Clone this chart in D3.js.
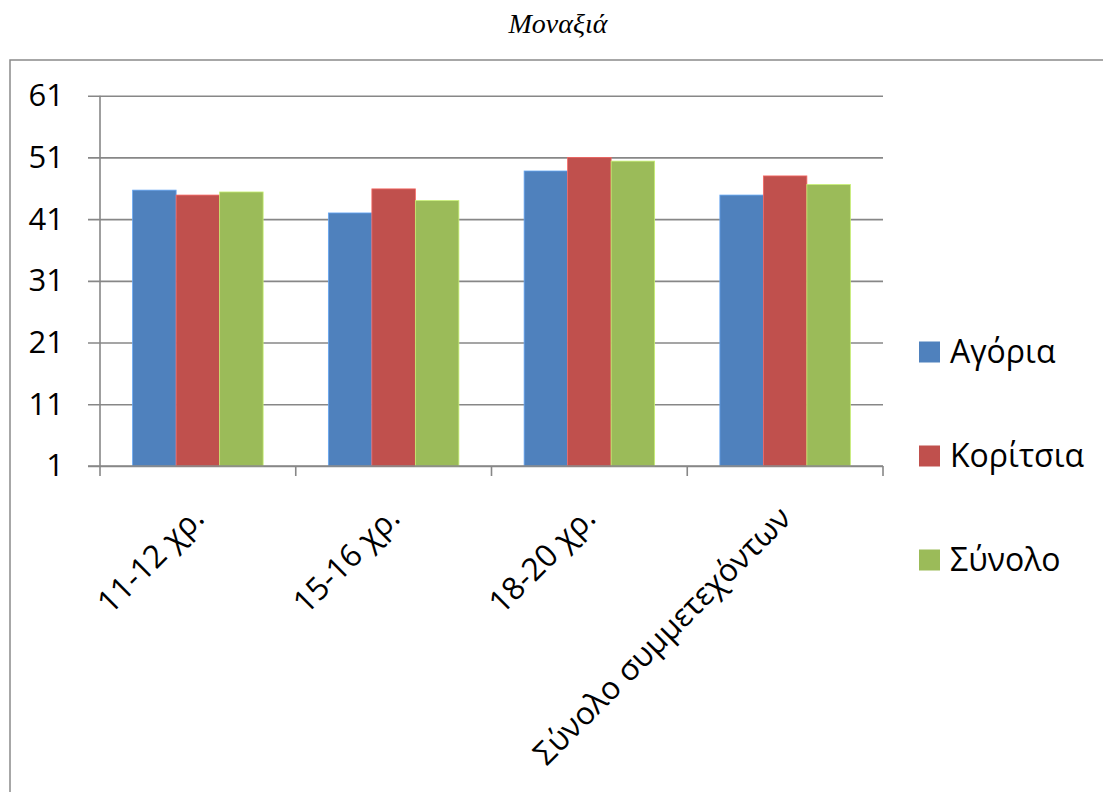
<!DOCTYPE html>
<html>
<head>
<meta charset="utf-8">
<script src="https://cdn.jsdelivr.net/npm/d3@7"></script>
<style>
  html, body { margin: 0; padding: 0; background: #fff; }
  svg { display: block; }
</style>
</head>
<body>
<svg id="chart" width="1103" height="792"></svg>
<script>
// Chart data
const categories = ["11-12 χρ.", "15-16 χρ.", "18-20 χρ.", "Σύνολο συμμετεχόντων"];
const seriesNames = ["Αγόρια", "Κορίτσια", "Σύνολο"];
const boys  = [45.7, 42.0, 48.8, 44.9];
const girls = [44.9, 45.9, 51.0, 48.0];
const total = [45.4, 44.0, 50.4, 46.6];
const yTicks = [1, 11, 21, 31, 41, 51, 61];
const title = "Μοναξιά";

const seriesValues = [boys, girls, total];
const colors = ["#4F81BD", "#C0504D", "#9BBB59"];
const font = "'Open Sans', 'Noto Sans', sans-serif";

const svg = d3.select("#chart");

// Layout
const plot = { left: 100, right: 883, top: 95.7, bottom: 466 };

// Outer frame
svg.append("rect")
  .attr("x", 10).attr("y", 60)
  .attr("width", 1110).attr("height", 760)
  .attr("fill", "none")
  .attr("stroke", "#8a8a8a")
  .attr("stroke-width", 1.5);

// Title
svg.append("text")
  .attr("x", 558).attr("y", 33)
  .attr("text-anchor", "middle")
  .attr("font-family", "'Liberation Serif', 'Times New Roman', serif")
  .attr("font-style", "italic")
  .attr("font-size", 28)
  .attr("fill", "#000")
  .text(title);

// Scales
const x = d3.scaleBand().domain(categories).range([plot.left, plot.right]).padding(0);
const xs = d3.scaleBand().domain(seriesNames).range([0, x.bandwidth()])
  .paddingInner(0).paddingOuter(0.75);
const y = d3.scaleLinear().domain([1, 61]).range([plot.bottom, plot.top]);

// Gridlines with y axis ticks
const yAxis = d3.axisLeft(y)
  .tickValues(yTicks)
  .tickSize(-(plot.right - plot.left) - 12)
  .tickSizeOuter(0)
  .tickPadding(24)
  .tickFormat(d3.format("d"));

const gy = svg.append("g")
  .attr("transform", `translate(${plot.left - 12},0)`)
  .call(yAxis);
gy.select(".domain").remove();
gy.selectAll(".tick line")
  .attr("stroke", "#878787")
  .attr("stroke-width", 1.6);
gy.selectAll(".tick text")
  .attr("x", -24)
  .attr("font-family", font)
  .attr("font-size", 31)
  .attr("fill", "#000");

// Vertical axis line
svg.append("line")
  .attr("x1", plot.left).attr("x2", plot.left)
  .attr("y1", plot.top).attr("y2", plot.bottom)
  .attr("stroke", "#878787")
  .attr("stroke-width", 1.6);

// Bars
const rows = categories.map((c, i) => ({ cat: c, vals: seriesNames.map((s, j) => ({ s, j, v: seriesValues[j][i] })) }));
const groups = svg.append("g").selectAll("g")
  .data(rows).join("g")
  .attr("transform", d => `translate(${x(d.cat)},0)`);
groups.selectAll("rect")
  .data(d => d.vals).join("rect")
  .attr("x", d => xs(d.s))
  .attr("width", xs.bandwidth())
  .attr("y", d => y(d.v))
  .attr("height", d => y(1) - y(d.v))
  .attr("fill", d => colors[d.j])
  .attr("stroke", d => d3.color(colors[d.j]).brighter(0.7))
  .attr("stroke-width", 0.8);

// Category axis
const xAxis = d3.axisBottom(x).tickSize(0).tickFormat(() => "");
const gx = svg.append("g")
  .attr("transform", `translate(0,${plot.bottom})`)
  .call(xAxis);
gx.select(".domain")
  .attr("stroke", "#878787")
  .attr("stroke-width", 1.6)
  .attr("d", `M${plot.left - 12},0H${plot.right}`);

// Category tick marks at band boundaries
const bounds = categories.map(c => x(c)).concat([x(categories[categories.length - 1]) + x.bandwidth()]);
gx.selectAll(".bound").data(bounds).join("line")
  .attr("class", "bound")
  .attr("x1", d => d).attr("x2", d => d)
  .attr("y1", 0).attr("y2", 10)
  .attr("stroke", "#878787")
  .attr("stroke-width", 1.6);

// Rotated category labels
svg.append("g").selectAll("text")
  .data(categories).join("text")
  .attr("transform", d => `translate(${x(d) + x.bandwidth() / 2 + 8},${plot.bottom + 54}) rotate(-45)`)
  .attr("text-anchor", "end")
  .attr("font-family", font)
  .attr("font-size", 31.5)
  .attr("fill", "#000")
  .text(d => d);

// Legend
const legend = svg.append("g").selectAll("g")
  .data(seriesNames).join("g")
  .attr("transform", (d, i) => `translate(919,${352 + i * 104})`);
legend.append("rect")
  .attr("x", 0).attr("y", -10.5)
  .attr("width", 21).attr("height", 21)
  .attr("fill", (d, i) => colors[i]);
legend.append("text")
  .attr("x", 31).attr("y", 0)
  .attr("dy", "0.35em")
  .attr("font-family", font)
  .attr("font-size", 32)
  .attr("fill", "#000")
  .text(d => d);
</script>
</body>
</html>
